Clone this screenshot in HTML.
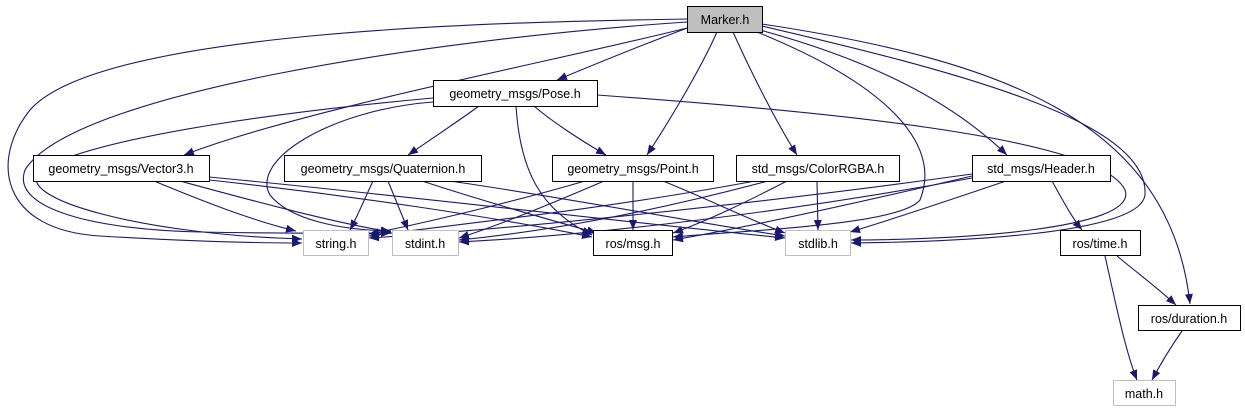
<!DOCTYPE html>
<html><head><meta charset="utf-8"><style>
html,body{margin:0;padding:0;background:#fff;}
svg{display:block;}
text{font-family:"Liberation Sans",sans-serif;font-size:12.5px;fill:#000;}
</style></head><body>
<svg width="1245" height="411" viewBox="0 0 1245 411" xmlns="http://www.w3.org/2000/svg">
<defs>
<marker id="a" markerWidth="11" markerHeight="8" refX="10" refY="4" orient="auto" markerUnits="userSpaceOnUse">
<path d="M0,0 L10,4 L0,8 Z" fill="#191970"/>
</marker>
</defs>
<g fill="none" stroke="#191970" stroke-width="1.1" marker-end="url(#a)">
<!-- Marker -->
<path d="M690,27 C650,42 600,62 557,80"/>
<path d="M687,28 C560,60 300,110 184,155"/>
<path d="M687,19 C500,22 100,30 30,110 C-10,160 0,230 100,236 C200,242 260,243 302,243"/>
<path d="M687,22 C420,40 70,95 25,170 C10,210 100,230 200,232 C300,234 360,233 391,233"/>
<path d="M717,32 C700,70 670,120 647,155"/>
<path d="M733,32 C750,70 775,120 797,155"/>
<path d="M757,32 C900,90 940,150 920,200 C900,225 750,230 673,237"/>
<path d="M760,30 C870,60 950,100 1007,155"/>
<path d="M762,26 C950,70 1150,120 1145,195 C1140,235 950,242 851,243"/>
<path d="M762,24 C1000,60 1170,120 1190,304"/>
<!-- Pose -->
<path d="M433,98 C300,110 100,135 40,170 C10,200 150,235 302,239"/>
<path d="M433,102 C330,110 250,160 270,195 C290,220 340,230 391,231"/>
<path d="M479,106 C460,120 430,140 408,155"/>
<path d="M534,106 C550,120 580,140 606,155"/>
<path d="M516,106 C520,170 540,210 592,235"/>
<path d="M597,95 C800,110 1100,135 1125,190 C1140,230 950,240 851,240"/>
<!-- Vector3 -->
<path d="M154,181 C200,200 250,220 296,231"/>
<path d="M180,181 C250,200 330,222 391,232"/>
<path d="M200,179 C350,195 500,218 592,237"/>
<path d="M209,177 C400,195 650,225 785,238"/>
<!-- Quaternion -->
<path d="M373,181 C365,198 358,215 350,230"/>
<path d="M388,181 C395,198 402,215 408,230"/>
<path d="M422,181 C480,200 550,220 597,233"/>
<path d="M450,181 C580,200 710,225 785,236"/>
<!-- Point -->
<path d="M585,181 C520,200 430,222 369,234"/>
<path d="M604,181 C560,200 500,225 459,238"/>
<path d="M633,181 L633,230"/>
<path d="M663,181 C710,200 750,220 785,233"/>
<!-- ColorRGBA -->
<path d="M755,181 C600,210 450,225 369,236"/>
<path d="M768,181 C640,215 540,232 459,240"/>
<path d="M787,181 C750,200 710,220 673,233"/>
<path d="M817,181 L818,230"/>
<!-- Header -->
<path d="M972,174 C750,205 500,230 369,238"/>
<path d="M972,178 C800,210 600,235 459,242"/>
<path d="M972,176 C870,200 760,225 673,240"/>
<path d="M1006,181 C950,200 890,220 850,232"/>
<path d="M1052,181 C1060,195 1070,215 1082,230"/>
<!-- time / duration -->
<path d="M1117,256 C1140,275 1160,290 1176,305"/>
<path d="M1105,256 C1115,300 1125,350 1137,380"/>
<path d="M1182,331 C1170,348 1160,365 1152,380"/>
</g>
<g stroke-width="1">
<rect x="687.5" y="6.5" width="75" height="26" fill="#bfbfbf" stroke="#000"/>
<rect x="433.5" y="80.5" width="164" height="26" fill="#fff" stroke="#000"/>
<rect x="33.5" y="155.5" width="176" height="26" fill="#fff" stroke="#000"/>
<rect x="284.5" y="155.5" width="197" height="26" fill="#fff" stroke="#000"/>
<rect x="552.5" y="155.5" width="161" height="26" fill="#fff" stroke="#000"/>
<rect x="736.5" y="155.5" width="163" height="26" fill="#fff" stroke="#000"/>
<rect x="972.5" y="155.5" width="138" height="26" fill="#fff" stroke="#000"/>
<rect x="303.5" y="230.5" width="65" height="25" fill="#fff" stroke="#bfbfbf"/>
<rect x="392.5" y="230.5" width="66" height="25" fill="#fff" stroke="#bfbfbf"/>
<rect x="593.5" y="230.5" width="79" height="25" fill="#fff" stroke="#000"/>
<rect x="785.5" y="230.5" width="65" height="25" fill="#fff" stroke="#bfbfbf"/>
<rect x="1060.5" y="230.5" width="80" height="25" fill="#fff" stroke="#000"/>
<rect x="1138.5" y="305.5" width="102" height="25" fill="#fff" stroke="#000"/>
<rect x="1113.5" y="380.5" width="62" height="25" fill="#fff" stroke="#bfbfbf"/>
</g>
<g text-anchor="middle">
<text x="725" y="24">Marker.h</text>
<text x="515" y="98">geometry_msgs/Pose.h</text>
<text x="121" y="173">geometry_msgs/Vector3.h</text>
<text x="383" y="173">geometry_msgs/Quaternion.h</text>
<text x="633" y="173">geometry_msgs/Point.h</text>
<text x="818" y="173">std_msgs/ColorRGBA.h</text>
<text x="1041" y="173">std_msgs/Header.h</text>
<text x="336" y="248">string.h</text>
<text x="425" y="248">stdint.h</text>
<text x="633" y="248">ros/msg.h</text>
<text x="818" y="248">stdlib.h</text>
<text x="1100" y="248">ros/time.h</text>
<text x="1189" y="323">ros/duration.h</text>
<text x="1144" y="398">math.h</text>
</g>
</svg>
</body></html>
